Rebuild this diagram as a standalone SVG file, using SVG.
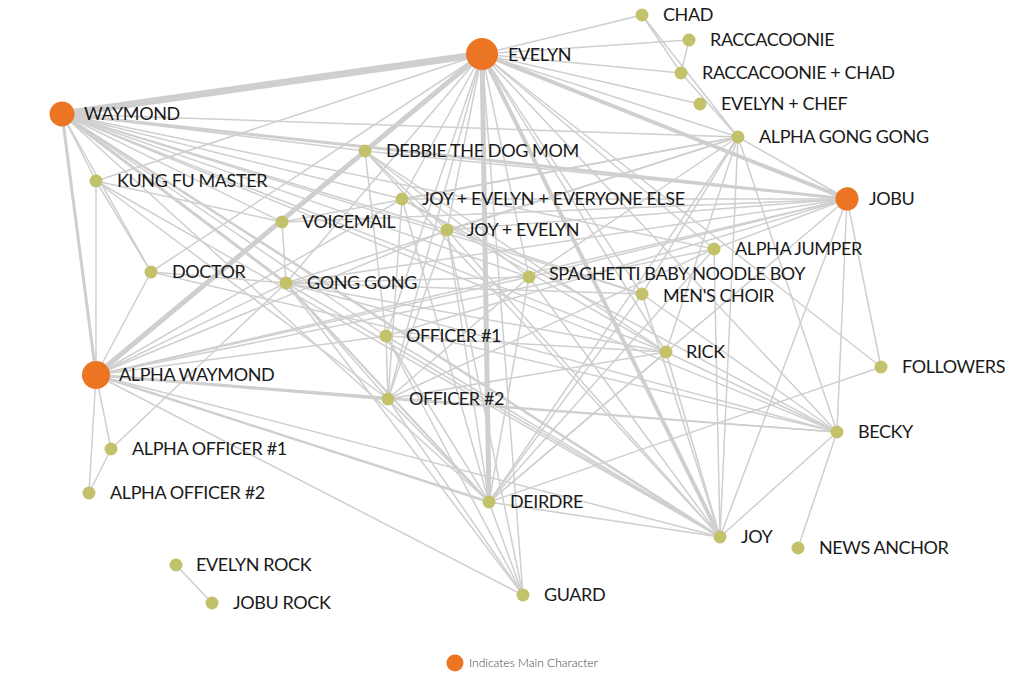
<svg xmlns="http://www.w3.org/2000/svg" width="1024" height="683" viewBox="0 0 1024 683">
<style>
.e{stroke:#cfcfcf;stroke-width:1.5;fill:none;stroke-linecap:round}
.n{fill:#c3c16a}
.m{fill:#ec7524}
.t{font-family:Lato,"Liberation Sans",sans-serif;font-size:18px;fill:#1a1a1a;letter-spacing:-0.4px}
.lg{font-family:Lato,"Liberation Sans",sans-serif;font-size:12px;font-weight:300;fill:#444}
</style>
<rect width="1024" height="683" fill="#fff"/>
<g id="connectors">
<line class="e" x1="482" y1="54" x2="62" y2="114" style="stroke-width:7"/>
<line class="e" x1="482" y1="54" x2="96" y2="375" style="stroke-width:5"/>
<line class="e" x1="482" y1="54" x2="489" y2="502" style="stroke-width:5"/>
<line class="e" x1="482" y1="54" x2="847" y2="199" style="stroke-width:4"/>
<line class="e" x1="482" y1="54" x2="720" y2="537" style="stroke-width:4"/>
<line class="e" x1="62" y1="114" x2="96" y2="375" style="stroke-width:3"/>
<line class="e" x1="62" y1="114" x2="847" y2="199" style="stroke-width:3"/>
<line class="e" x1="62" y1="114" x2="286" y2="283" style="stroke-width:3"/>
<line class="e" x1="62" y1="114" x2="720" y2="537" style="stroke-width:2.5"/>
<line class="e" x1="96" y1="375" x2="388" y2="399" style="stroke-width:3"/>
<line class="e" x1="96" y1="375" x2="489" y2="502" style="stroke-width:2.5"/>
<line class="e" x1="286" y1="283" x2="489" y2="502" style="stroke-width:2"/>
<line class="e" x1="482" y1="54" x2="642" y2="15"/>
<line class="e" x1="482" y1="54" x2="689" y2="40"/>
<line class="e" x1="482" y1="54" x2="681" y2="73"/>
<line class="e" x1="482" y1="54" x2="700" y2="104"/>
<line class="e" x1="482" y1="54" x2="738" y2="137"/>
<line class="e" x1="482" y1="54" x2="96" y2="181"/>
<line class="e" x1="482" y1="54" x2="151" y2="272"/>
<line class="e" x1="482" y1="54" x2="286" y2="283"/>
<line class="e" x1="482" y1="54" x2="402" y2="199"/>
<line class="e" x1="482" y1="54" x2="447" y2="230"/>
<line class="e" x1="482" y1="54" x2="386" y2="336"/>
<line class="e" x1="482" y1="54" x2="388" y2="399"/>
<line class="e" x1="482" y1="54" x2="529" y2="277"/>
<line class="e" x1="482" y1="54" x2="642" y2="294"/>
<line class="e" x1="482" y1="54" x2="666" y2="352"/>
<line class="e" x1="482" y1="54" x2="714" y2="249"/>
<line class="e" x1="482" y1="54" x2="837" y2="432"/>
<line class="e" x1="482" y1="54" x2="881" y2="367"/>
<line class="e" x1="482" y1="54" x2="523" y2="595"/>
<line class="e" x1="62" y1="114" x2="96" y2="181"/>
<line class="e" x1="62" y1="114" x2="151" y2="272"/>
<line class="e" x1="62" y1="114" x2="738" y2="137"/>
<line class="e" x1="62" y1="114" x2="365" y2="151"/>
<line class="e" x1="62" y1="114" x2="282" y2="222"/>
<line class="e" x1="62" y1="114" x2="402" y2="199"/>
<line class="e" x1="62" y1="114" x2="447" y2="230"/>
<line class="e" x1="62" y1="114" x2="529" y2="277"/>
<line class="e" x1="62" y1="114" x2="642" y2="294"/>
<line class="e" x1="62" y1="114" x2="386" y2="336"/>
<line class="e" x1="62" y1="114" x2="666" y2="352"/>
<line class="e" x1="62" y1="114" x2="837" y2="432"/>
<line class="e" x1="62" y1="114" x2="489" y2="502"/>
<line class="e" x1="62" y1="114" x2="714" y2="249"/>
<line class="e" x1="96" y1="375" x2="96" y2="181"/>
<line class="e" x1="96" y1="375" x2="151" y2="272"/>
<line class="e" x1="96" y1="375" x2="111" y2="449"/>
<line class="e" x1="96" y1="375" x2="89" y2="493"/>
<line class="e" x1="96" y1="375" x2="386" y2="336"/>
<line class="e" x1="96" y1="375" x2="286" y2="283"/>
<line class="e" x1="96" y1="375" x2="447" y2="230"/>
<line class="e" x1="96" y1="375" x2="402" y2="199"/>
<line class="e" x1="96" y1="375" x2="529" y2="277"/>
<line class="e" x1="96" y1="375" x2="714" y2="249"/>
<line class="e" x1="96" y1="375" x2="847" y2="199"/>
<line class="e" x1="96" y1="375" x2="837" y2="432"/>
<line class="e" x1="96" y1="375" x2="523" y2="595"/>
<line class="e" x1="96" y1="375" x2="720" y2="537"/>
<line class="e" x1="847" y1="199" x2="738" y2="137"/>
<line class="e" x1="847" y1="199" x2="365" y2="151"/>
<line class="e" x1="847" y1="199" x2="402" y2="199"/>
<line class="e" x1="847" y1="199" x2="447" y2="230"/>
<line class="e" x1="847" y1="199" x2="286" y2="283"/>
<line class="e" x1="847" y1="199" x2="714" y2="249"/>
<line class="e" x1="847" y1="199" x2="529" y2="277"/>
<line class="e" x1="847" y1="199" x2="386" y2="336"/>
<line class="e" x1="847" y1="199" x2="489" y2="502"/>
<line class="e" x1="847" y1="199" x2="720" y2="537"/>
<line class="e" x1="847" y1="199" x2="837" y2="432"/>
<line class="e" x1="847" y1="199" x2="881" y2="367"/>
<line class="e" x1="847" y1="199" x2="282" y2="222"/>
<line class="e" x1="738" y1="137" x2="642" y2="15"/>
<line class="e" x1="738" y1="137" x2="681" y2="73"/>
<line class="e" x1="738" y1="137" x2="489" y2="502"/>
<line class="e" x1="738" y1="137" x2="720" y2="537"/>
<line class="e" x1="738" y1="137" x2="837" y2="432"/>
<line class="e" x1="738" y1="137" x2="286" y2="283"/>
<line class="e" x1="738" y1="137" x2="447" y2="230"/>
<line class="e" x1="738" y1="137" x2="402" y2="199"/>
<line class="e" x1="738" y1="137" x2="529" y2="277"/>
<line class="e" x1="738" y1="137" x2="282" y2="222"/>
<line class="e" x1="738" y1="137" x2="642" y2="294"/>
<line class="e" x1="738" y1="137" x2="666" y2="352"/>
<line class="e" x1="642" y1="15" x2="681" y2="73"/>
<line class="e" x1="689" y1="40" x2="681" y2="73"/>
<line class="e" x1="96" y1="181" x2="151" y2="272"/>
<line class="e" x1="96" y1="181" x2="282" y2="222"/>
<line class="e" x1="96" y1="181" x2="388" y2="399"/>
<line class="e" x1="96" y1="181" x2="720" y2="537"/>
<line class="e" x1="151" y1="272" x2="286" y2="283"/>
<line class="e" x1="151" y1="272" x2="837" y2="432"/>
<line class="e" x1="282" y1="222" x2="286" y2="283"/>
<line class="e" x1="286" y1="283" x2="388" y2="399"/>
<line class="e" x1="286" y1="283" x2="523" y2="595"/>
<line class="e" x1="286" y1="283" x2="720" y2="537"/>
<line class="e" x1="286" y1="283" x2="666" y2="352"/>
<line class="e" x1="286" y1="283" x2="837" y2="432"/>
<line class="e" x1="286" y1="283" x2="529" y2="277"/>
<line class="e" x1="286" y1="283" x2="642" y2="294"/>
<line class="e" x1="365" y1="151" x2="386" y2="336"/>
<line class="e" x1="365" y1="151" x2="529" y2="277"/>
<line class="e" x1="365" y1="151" x2="666" y2="352"/>
<line class="e" x1="365" y1="151" x2="720" y2="537"/>
<line class="e" x1="365" y1="151" x2="447" y2="230"/>
<line class="e" x1="402" y1="199" x2="388" y2="399"/>
<line class="e" x1="402" y1="199" x2="489" y2="502"/>
<line class="e" x1="402" y1="199" x2="666" y2="352"/>
<line class="e" x1="402" y1="199" x2="837" y2="432"/>
<line class="e" x1="447" y1="230" x2="489" y2="502"/>
<line class="e" x1="447" y1="230" x2="388" y2="399"/>
<line class="e" x1="447" y1="230" x2="523" y2="595"/>
<line class="e" x1="447" y1="230" x2="642" y2="294"/>
<line class="e" x1="447" y1="230" x2="720" y2="537"/>
<line class="e" x1="386" y1="336" x2="388" y2="399"/>
<line class="e" x1="386" y1="336" x2="489" y2="502"/>
<line class="e" x1="386" y1="336" x2="666" y2="352"/>
<line class="e" x1="386" y1="336" x2="720" y2="537"/>
<line class="e" x1="386" y1="336" x2="523" y2="595"/>
<line class="e" x1="388" y1="399" x2="489" y2="502"/>
<line class="e" x1="388" y1="399" x2="837" y2="432"/>
<line class="e" x1="388" y1="399" x2="523" y2="595"/>
<line class="e" x1="388" y1="399" x2="666" y2="352"/>
<line class="e" x1="529" y1="277" x2="489" y2="502"/>
<line class="e" x1="529" y1="277" x2="720" y2="537"/>
<line class="e" x1="529" y1="277" x2="388" y2="399"/>
<line class="e" x1="642" y1="294" x2="489" y2="502"/>
<line class="e" x1="642" y1="294" x2="720" y2="537"/>
<line class="e" x1="642" y1="294" x2="837" y2="432"/>
<line class="e" x1="714" y1="249" x2="720" y2="537"/>
<line class="e" x1="714" y1="249" x2="489" y2="502"/>
<line class="e" x1="714" y1="249" x2="388" y2="399"/>
<line class="e" x1="666" y1="352" x2="489" y2="502"/>
<line class="e" x1="666" y1="352" x2="720" y2="537"/>
<line class="e" x1="666" y1="352" x2="837" y2="432"/>
<line class="e" x1="489" y1="502" x2="720" y2="537"/>
<line class="e" x1="489" y1="502" x2="881" y2="367"/>
<line class="e" x1="489" y1="502" x2="523" y2="595"/>
<line class="e" x1="837" y1="432" x2="720" y2="537"/>
<line class="e" x1="837" y1="432" x2="798" y2="548"/>
<line class="e" x1="111" y1="449" x2="89" y2="493"/>
<line class="e" x1="111" y1="449" x2="286" y2="283"/>
<line class="e" x1="176" y1="565" x2="212" y2="603"/>
</g>
<g id="node-evelyn"><circle class="m" cx="482" cy="54" r="16"/><text class="t" x="508" y="61">EVELYN</text></g>
<g id="node-waymond"><circle class="m" cx="62" cy="114" r="12.5"/><text class="t" x="84" y="120">WAYMOND</text></g>
<g id="node-jobu"><circle class="n" cx="848" cy="197" r="10"/><circle class="m" cx="847" cy="199" r="11.5"/><text class="t" x="869" y="205">JOBU</text></g>
<g id="node-alpha-waymond"><circle class="m" cx="96" cy="375" r="14"/><text class="t" x="119" y="381">ALPHA WAYMOND</text></g>
<g id="node-chad"><circle class="n" cx="642" cy="15" r="6.5"/><text class="t" x="663" y="21">CHAD</text></g>
<g id="node-raccacoonie"><circle class="n" cx="689" cy="40" r="6.5"/><text class="t" x="710" y="46">RACCACOONIE</text></g>
<g id="node-raccacoonie-chad"><circle class="n" cx="681" cy="73" r="6.5"/><text class="t" x="702" y="79">RACCACOONIE + CHAD</text></g>
<g id="node-evelyn-chef"><circle class="n" cx="700" cy="104" r="6.5"/><text class="t" x="721" y="110">EVELYN + CHEF</text></g>
<g id="node-alpha-gong-gong"><circle class="n" cx="738" cy="137" r="6.5"/><text class="t" x="759" y="143">ALPHA GONG GONG</text></g>
<g id="node-debbie"><circle class="n" cx="365" cy="151" r="6.5"/><text class="t" x="386" y="157">DEBBIE THE DOG MOM</text></g>
<g id="node-kung-fu-master"><circle class="n" cx="96" cy="181" r="6.5"/><text class="t" x="117" y="187">KUNG FU MASTER</text></g>
<g id="node-joy-evelyn-everyone"><circle class="n" cx="402" cy="199" r="6.5"/><text class="t" x="422" y="205">JOY + EVELYN + EVERYONE ELSE</text></g>
<g id="node-voicemail"><circle class="n" cx="282" cy="222" r="6.5"/><text class="t" x="302" y="228">VOICEMAIL</text></g>
<g id="node-joy-evelyn"><circle class="n" cx="447" cy="230" r="6.5"/><text class="t" x="467" y="236">JOY + EVELYN</text></g>
<g id="node-alpha-jumper"><circle class="n" cx="714" cy="249" r="6.5"/><text class="t" x="735" y="255">ALPHA JUMPER</text></g>
<g id="node-doctor"><circle class="n" cx="151" cy="272" r="6.5"/><text class="t" x="172" y="278">DOCTOR</text></g>
<g id="node-gong-gong"><circle class="n" cx="286" cy="283" r="6.5"/><text class="t" x="307" y="289">GONG GONG</text></g>
<g id="node-spaghetti"><circle class="n" cx="529" cy="277" r="6.5"/><text class="t" x="549" y="280" textLength="256" lengthAdjust="spacing">SPAGHETTI BABY NOODLE BOY</text></g>
<g id="node-mens-choir"><circle class="n" cx="642" cy="294" r="6.5"/><text class="t" x="663" y="302">MEN'S CHOIR</text></g>
<g id="node-officer-1"><circle class="n" cx="386" cy="336" r="6.5"/><text class="t" x="406" y="342">OFFICER #1</text></g>
<g id="node-rick"><circle class="n" cx="666" cy="352" r="6.5"/><text class="t" x="686" y="358">RICK</text></g>
<g id="node-followers"><circle class="n" cx="881" cy="367" r="6.5"/><text class="t" x="902" y="373">FOLLOWERS</text></g>
<g id="node-officer-2"><circle class="n" cx="388" cy="399" r="6.5"/><text class="t" x="409" y="405">OFFICER #2</text></g>
<g id="node-alpha-officer-1"><circle class="n" cx="111" cy="449" r="6.5"/><text class="t" x="132" y="455">ALPHA OFFICER #1</text></g>
<g id="node-becky"><circle class="n" cx="837" cy="432" r="6.5"/><text class="t" x="858" y="438">BECKY</text></g>
<g id="node-alpha-officer-2"><circle class="n" cx="89" cy="493" r="6.5"/><text class="t" x="110" y="499">ALPHA OFFICER #2</text></g>
<g id="node-deirdre"><circle class="n" cx="489" cy="502" r="6.5"/><text class="t" x="510" y="508">DEIRDRE</text></g>
<g id="node-joy"><circle class="n" cx="720" cy="537" r="6.5"/><text class="t" x="741" y="543">JOY</text></g>
<g id="node-news-anchor"><circle class="n" cx="798" cy="548" r="6.5"/><text class="t" x="819" y="554">NEWS ANCHOR</text></g>
<g id="node-evelyn-rock"><circle class="n" cx="176" cy="565" r="6.5"/><text class="t" x="196" y="571">EVELYN ROCK</text></g>
<g id="node-guard"><circle class="n" cx="523" cy="595" r="6.5"/><text class="t" x="544" y="601">GUARD</text></g>
<g id="node-jobu-rock"><circle class="n" cx="212" cy="603" r="6.5"/><text class="t" x="233" y="609">JOBU ROCK</text></g>
<g id="legend"><circle class="m" cx="455" cy="663" r="8.5"/><text class="lg" x="469" y="667">Indicates Main Character</text></g>
</svg>
